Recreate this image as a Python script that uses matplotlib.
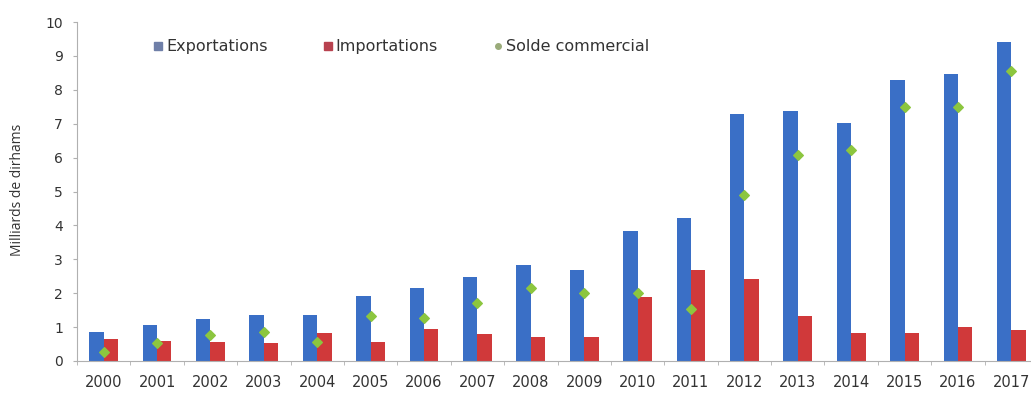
import matplotlib
matplotlib.use("Agg")
import matplotlib.pyplot as plt
import numpy as np
from matplotlib.lines import Line2D

years = [str(y) for y in range(2000, 2018)]
exportations = [0.86, 1.05, 1.24, 1.36, 1.35, 1.92, 2.14, 2.47, 2.83, 2.68,
                3.84, 4.21, 7.29, 7.37, 7.01, 8.29, 8.47, 9.40]
importations = [0.65, 0.60, 0.55, 0.52, 0.82, 0.57, 0.93, 0.79, 0.72, 0.72,
                1.90, 2.68, 2.42, 1.34, 0.82, 0.82, 0.99, 0.91]
solde = [0.27, 0.53, 0.77, 0.86, 0.55, 1.34, 1.26, 1.70, 2.14, 2.00,
         2.00, 1.52, 4.90, 6.08, 6.22, 7.48, 7.48, 8.55]

plt.rcParams['font.family'] = ['DejaVu Sans']

W, H = 1031, 396
fig = plt.figure(figsize=(W / 100, H / 100), dpi=100)
ax = fig.add_axes([77 / W, 35 / H, 961 / W, 339 / H])

x = np.arange(len(years))
bw = 0.27
blue = '#3a6fc6'
red = '#d0393a'
green = '#8cc63f'
txt = '#333333'

ax.bar(x - bw / 2, exportations, bw, color=blue, label='Exportations')
ax.bar(x + bw / 2, importations, bw, color=red, label='Importations')
ax.scatter(x, solde, marker='D', s=24, color=green, zorder=3, label='Solde commercial')

ax.set_xlim(-0.5, len(years) - 0.5)
ax.set_ylim(0, 10)
ax.set_yticks(range(0, 11))
ax.set_xticks(x)
ax.set_xticklabels(years)
ax.set_xticks(np.arange(-0.5, len(years), 1), minor=True)

for s in ['top', 'right']:
    ax.spines[s].set_visible(False)
for s in ['left', 'bottom']:
    ax.spines[s].set_color('#b0b0b0')
    ax.spines[s].set_linewidth(0.8)

ax.tick_params(axis='y', length=3, color='#b0b0b0', labelsize=10, labelcolor=txt, pad=7)
ax.tick_params(axis='x', which='major', length=0, labelsize=10.5, labelcolor=txt, pad=10)
ax.tick_params(axis='x', which='minor', length=3, color='#b0b0b0')

fig.text(18 / W, 1 - 190 / H, 'Milliards de dirhams', rotation=90, ha='center', va='center',
         fontsize=10, color=txt, family=['Open Sans', 'DejaVu Sans'])

handles = [
    Line2D([], [], marker='s', linestyle='none', color='#6f7fa8', markersize=6),
    Line2D([], [], marker='s', linestyle='none', color='#b8424f', markersize=6),
    Line2D([], [], marker='o', linestyle='none', color='#9aab7a', markersize=4),
]
leg = ax.legend(handles, ['Exportations', 'Importations', 'Solde commercial'],
                loc='upper left', bbox_to_anchor=((148 - 77) / 961, 1 - (33 - 22) / 339),
                ncol=3, frameon=False, fontsize=11.5, handlelength=0.5, handletextpad=0.25,
                columnspacing=3.5, borderaxespad=0)
for t in leg.get_texts():
    t.set_color(txt)

fig.savefig('out.png', dpi=100)
